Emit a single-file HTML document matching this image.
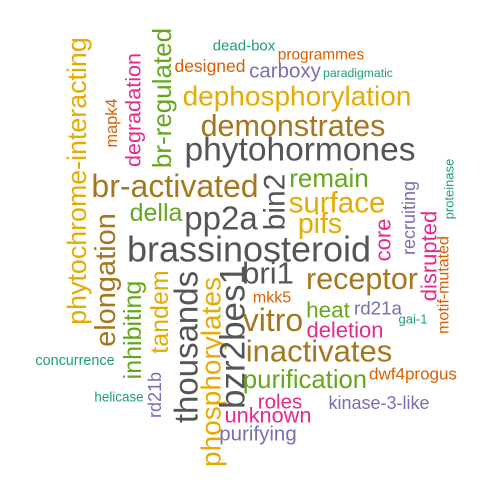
<!DOCTYPE html>
<html><head><meta charset="utf-8"><style>
html,body{margin:0;padding:0;background:#fff;}
svg{display:block;}
text{font-family:"Liberation Sans",sans-serif;}
</style></head><body>
<svg id="cloud" width="500" height="500" viewBox="0 0 500 500"></svg>
<script>
const words = ["dead-box","programmes","designed","carboxy","paradigmatic","dephosphorylation","demonstrates","phytohormones","br-activated","remain","surface","pifs","della","pp2a","brassinosteroid","bri1","receptor","mkk5","vitro","heat","rd21a","gai-1","deletion","inactivates","purification","dwf4progus","roles","kinase-3-like","unknown","purifying","concurrence","helicase","phytochrome-interacting","mapk4","degradation","br-regulated","elongation","inhibiting","tandem","rd21b","thousands","phosphorylates","bzr2bes1","bin2","core","recruiting","disrupted","proteinase","motif-mutated"];
const sizes = [15,15.4,17.5,20.5,12.2,28,30.5,33.5,32,26,29.5,28.5,25,33,36,31,30.5,16,32,22.5,18.8,13,22,31,25.7,17,20.5,18,21.7,20.5,14.4,13.4,26.8,16.3,21.6,26,29,25,25,18,33,28,35,30,22,18,22,13,16];
const colorIdx = [0,1,1,2,0,5,6,7,6,4,5,5,4,7,7,7,6,1,6,4,2,0,3,6,4,1,3,2,3,2,0,0,5,1,3,4,6,4,5,2,7,5,7,7,3,2,3,0,1];
const palette = ["#1B9E77","#D95F02","#7570B3","#E7298A","#66A61E","#E6AB02","#A6761D","#555555"];
const layout = [
[244,46,0],[321,55,0],[210,66,0],[285,71,0],[358,73,0],[297,96,0],[293,126,0],[300,150,0],[175,186,0],[329,178,0],[337,203,0],[320,224,0],[156,213,0],[221,218,0],[249,249,0],[268,273,0],[362,279,0],[272,298,0],[273,320,0],[328,310,0],[378,308,0],[413,319,0],[345,330,0],[319,351,0],[305,380,0],[413,374,0],[280,402,0],[379,403,0],[268,415,0],[258,434,0],[75,361,0],[119,397,0],
[77,181,1],[112,123,1],[133,110,1],[162,98,1],[106,280,1],[133,330,1],[160,312,1],[155,395,1],[186,347,1],[211,372,1],[233,337,1],[275,202,1],[383,240,1],[409,218,1],[429,256,1],[449,189,1],[444,285,1]];
const svg = document.getElementById('cloud');
words.forEach((w,i)=>{
  const t = document.createElementNS('http://www.w3.org/2000/svg','text');
  
  
  const [x,y,rot] = layout[i];
  t.setAttribute('x', x);
  t.setAttribute('y', y);
  t.setAttribute('text-anchor','middle');
  t.setAttribute('dominant-baseline','central');
  t.setAttribute('font-size', sizes[i]);
  t.setAttribute('fill', palette[colorIdx[i]]);
  if (rot) t.setAttribute('transform', 'rotate(-90 ' + x + ' ' + y + ')');
  t.textContent = w;
  svg.appendChild(t);
});
</script>
</body></html>
